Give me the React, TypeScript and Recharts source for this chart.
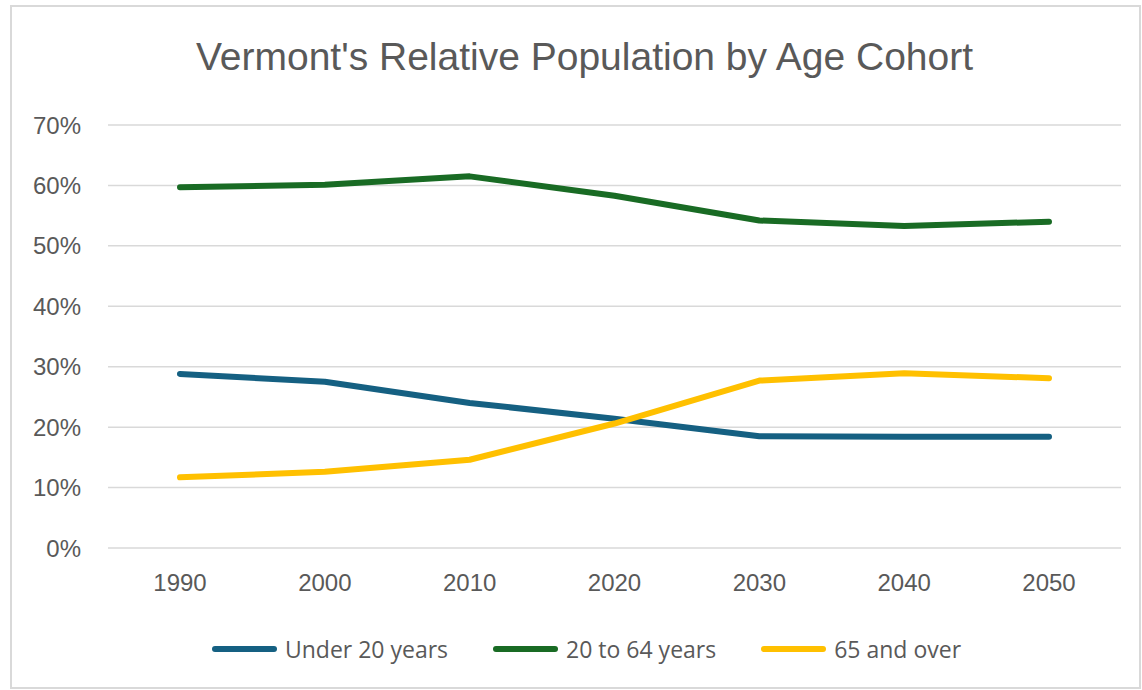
import { LineChart, Line, XAxis, YAxis, CartesianGrid, Legend } from "recharts";

const years = ["1990", "2000", "2010", "2020", "2030", "2040", "2050"];
const under20 = [28.8, 27.5, 24.0, 21.4, 18.5, 18.4, 18.4];
const age20to64 = [59.7, 60.1, 61.5, 58.3, 54.2, 53.3, 54.0];
const over65 = [11.7, 12.6, 14.6, 20.6, 27.7, 28.9, 28.1];
const yTicks = [0, 10, 20, 30, 40, 50, 60, 70];

const series = [
  { key: "under20", name: "Under 20 years", color: "#156082" },
  { key: "age20to64", name: "20 to 64 years", color: "#196B24" },
  { key: "over65", name: "65 and over", color: "#FFC000" },
];

const data = years.map((y, i) => ({
  year: y,
  under20: under20[i],
  age20to64: age20to64[i],
  over65: over65[i],
}));

const tickFont = { fontFamily: "Liberation Sans, Arial, sans-serif", fontSize: 24, fill: "#595959" };

// legend like excel: thick line + label
const LegendContent = () => (
  <div style={{ display: "flex", justifyContent: "center", gap: 45, paddingLeft: 22, fontFamily: "Open Sans, sans-serif", fontSize: 23, color: "#595959" }}>
    {series.map((s) => (
      <div key={s.key} style={{ display: "flex", alignItems: "center" }}>
        <span style={{ display: "inline-block", width: 65, height: 6, borderRadius: 3, background: s.color, marginRight: 8 }} />
        <span>{s.name}</span>
      </div>
    ))}
  </div>
);

export default function App() {
  return (
    <div
      style={{
        position: "absolute",
        left: 10,
        top: 5,
        width: 1131,
        height: 684,
        border: "2px solid #d9d9d9",
        boxSizing: "border-box",
        background: "#fff",
      }}
    >
      <div
        style={{
          position: "absolute",
          top: 28,
          left: 18,
          width: 1127 - 18,
          textAlign: "center",
          fontFamily: "Liberation Sans, Arial, sans-serif",
          fontSize: 39,
          color: "#595959",
        }}
      >
        Vermont's Relative Population by Age Cohort
      </div>
      <LineChart width={1127} height={680} data={data} margin={{ top: 118, right: 18, left: 0, bottom: 47 }}>
        <CartesianGrid vertical={false} stroke="#d9d9d9" strokeWidth={1.5} />
        <XAxis
          dataKey="year"
          axisLine={false}
          tickLine={false}
          tick={tickFont}
          tickMargin={20}
          height={60}
          padding={{ left: 72, right: 72 }}
        />
        <YAxis
          domain={[0, 70]}
          ticks={yTicks}
          axisLine={false}
          tickLine={false}
          tick={tickFont}
          tickMargin={21}
          width={96}
          tickFormatter={(v) => `${v}%`}
        />
        <Legend content={<LegendContent />} wrapperStyle={{ position: "absolute", top: 626, left: 0, width: 1127 }} />
        {series.map((s) => (
          <Line
            key={s.key}
            type="linear"
            dataKey={s.key}
            name={s.name}
            stroke={s.color}
            strokeWidth={6}
            strokeLinecap="round"
            strokeLinejoin="round"
            dot={false}
            activeDot={false}
            isAnimationActive={false}
          />
        ))}
      </LineChart>
    </div>
  );
}
